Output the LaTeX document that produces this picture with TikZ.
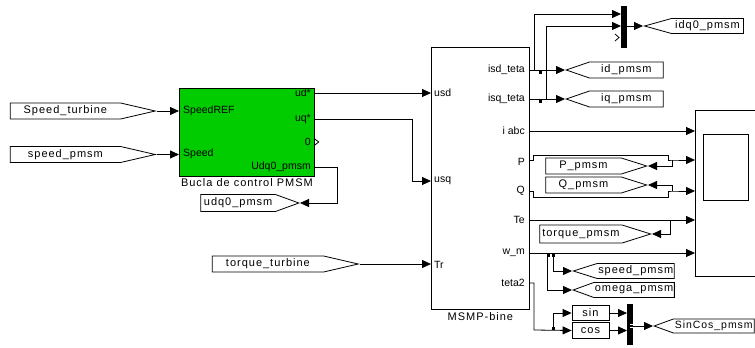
\documentclass[tikz,border=0pt]{standalone}
\usepackage{fontspec}
\setmainfont{Liberation Sans}
\newfontfamily\tagfont[LetterSpace=9]{Liberation Sans}
\usetikzlibrary{positioning,arrows.meta,shapes.symbols}

\begin{document}
\begin{tikzpicture}[x=1pt,y=-1pt,
  blk/.style={draw,line width=0.8pt,inner sep=0pt},
  bar/.style={fill=black,draw=none,inner sep=0pt},
  wire/.style={line width=0.8pt},
  sig/.style={-{Triangle[length=9pt,width=8pt]},line width=0.8pt},
  portlbl/.style={font=\fontsize{10.5}{12}\selectfont,inner sep=1pt},
  blkname/.style={font=\tagfont\fontsize{11}{13}\selectfont,inner sep=1pt},
  tag/.style={draw,line width=0.8pt,shape=signal,minimum height=16pt,inner sep=1pt,
    signal pointer angle=35,font=\tagfont\fontsize{11}{13}\selectfont},
  fromtag/.style={tag,signal to=east,signal pointer angle=26,anchor=east},
  gotoE/.style={tag,signal to=east,anchor=east},
  gotoW/.style={tag,signal to=west,anchor=west},
  jdot/.style={fill=black,inner sep=0pt,minimum size=3pt}]
\clip (0,0) rectangle (755,348);

% blocks
\node[blk,fill={rgb,255:red,0;green,204;blue,0},minimum width=135pt,minimum height=88pt,anchor=north west] (ctrl) at (179,88) {};
\node[blkname,below=1pt of ctrl] (ctrlname) {Bucla de control PMSM};
\node[blk,minimum width=98pt,minimum height=262pt,anchor=north west] (msmp) at (431,47) {};
\node[blkname,below=2pt of msmp] (msmpname) {MSMP-bine};
\node[blk,minimum width=70pt,minimum height=166pt,anchor=north west] (scope) at (695,110) {};
\node[blk,minimum width=45pt,minimum height=66pt,anchor=north west] (scopewin) at (703,134) {};
\node[bar,minimum width=6pt,minimum height=42pt,anchor=north west] (mux) at (621,6) {};
\node[bar,minimum width=6pt,minimum height=41pt,anchor=north west] (mux2) at (627,304) {};
\node[blk,minimum width=37pt,minimum height=15pt,font=\tagfont\fontsize{11}{13}\selectfont] (sin) at (590.5,313) {sin};
\node[blk,minimum width=37pt,minimum height=16pt,font=\tagfont\fontsize{11}{13}\selectfont] (cos) at (590.5,330.5) {cos};

% port labels
\node[portlbl,anchor=west] (lref) at (182,111) {SpeedREF};
\node[portlbl,anchor=west] (lspd) at (182,154) {Speed};
\node[portlbl,anchor=east] (lud) at (312,93) {ud*};
\node[portlbl,anchor=east] (luq) at (312,119) {uq*};
\node[portlbl,anchor=east] (lzero) at (312,142) {0};
\node[portlbl,anchor=east] (ludq) at (312,167) {Udq0\_pmsm};
\node[portlbl,anchor=west] (lusd) at (433,93) {usd};
\node[portlbl,anchor=west] (lusq) at (433,181) {usq};
\node[portlbl,anchor=west] (ltr) at (433,265) {Tr};
\node[portlbl,anchor=east] (lisd) at (526,70) {isd\_teta};
\node[portlbl,anchor=east] (lisq) at (526,99) {isq\_teta};
\node[portlbl,anchor=east] (liabc) at (526,131) {i abc};
\node[portlbl,anchor=east] (lp) at (526,162) {P};
\node[portlbl,anchor=east] (lq) at (526,191) {Q};
\node[portlbl,anchor=east] (lte) at (526,220) {Te};
\node[portlbl,anchor=east] (lwm) at (526,253) {w\_m};
\node[portlbl,anchor=east] (lteta) at (526,283) {teta2};

% from / goto tags
\node[fromtag,minimum width=145pt] (st) at (157,111) {Speed\_turbine};
\node[fromtag,minimum width=145pt] (sp) at (157,154.5) {speed\_pmsm};
\node[fromtag,minimum width=146pt] (tt) at (360,264) {torque\_turbine};
\node[gotoE,minimum width=98pt,minimum height=17pt,signal pointer angle=40] (udq) at (300,203) {udq0\_pmsm};
\node[gotoW,minimum width=99pt,minimum height=15pt,signal pointer angle=31] (idq) at (643,26) {idq0\_pmsm};
\node[gotoW,minimum width=97pt,signal pointer angle=38] (id) at (565,70) {id\_pmsm};
\node[gotoW,minimum width=97pt,signal pointer angle=38] (iq) at (565,99) {iq\_pmsm};
\node[gotoE,minimum width=101pt] (ppm) at (648,166) {P\_pmsm};
\node[gotoE,minimum width=101pt] (qpm) at (648,185) {Q\_pmsm};
\node[gotoE,minimum width=111pt,minimum height=18pt] (tpm) at (652,234) {torque\_pmsm};
\node[gotoW,minimum width=101pt,minimum height=15pt] (spm) at (572,271) {speed\_pmsm};
\node[gotoW,minimum width=101pt,minimum height=15pt,signal pointer angle=40] (opm) at (572,290) {omega\_pmsm};
\node[gotoW,minimum width=100pt,minimum height=14pt,signal pointer angle=40,font=\tagfont\fontsize{10.5}{12}\selectfont] (scpm) at (653,326) {SinCos\_pmsm};

% port points
\coordinate (ud) at (314,93);
\coordinate (uq) at (314,119);
\coordinate (udqout) at (314,167);
\coordinate (isd) at (529,70);
\coordinate (isq) at (529,99);
\coordinate (iabc) at (529,131);
\coordinate (pout) at (529,160);
\coordinate (qout) at (529,191);
\coordinate (teout) at (529,220);
\coordinate (wmout) at (529,253);
\coordinate (tetaout) at (529,283);
\coordinate (isdb) at (534,70);
\coordinate (isqb) at (546,99);
\coordinate (pb) at (672,160);
\coordinate (qb) at (672,191);
\coordinate (teb) at (670,220);
\coordinate (wmb1) at (547,253);
\coordinate (wmb2) at (553,253);
\coordinate (tetab) at (553,330);

% signals
\draw[sig] (st.east) -- (st.east -| ctrl.west);
\draw[sig] (sp.east) -- (sp.east -| ctrl.west);
\draw[sig] (ud) -- (ud -| msmp.west);
\draw[sig] (uq) -| (412,181) -- (lusq.west -| msmp.west);
\draw[sig] (udqout) -| (337,203) -- (udq.east);
\draw[sig] (tt.east) -- (tt.east -| msmp.west);
\draw[sig] (isd) -- (id.west);
\draw[sig] (isdb) |- (mux.west |- 0,14);
\draw[sig] (isq) -- (iq.west);
\draw[sig] (isqb) |- (mux.west |- 0,26);
\draw[sig] (mux.east |- idq.west) -- (idq.west);
\draw[sig] (iabc) -- (iabc -| scope.west);
\draw[sig] (pout) -- ++(4,0) |- (668,155) |- (pb) -- (pb -| scope.west);
\draw[sig] (pb) |- (ppm.east);
\draw[sig] (qout) -- ++(4,0) |- (668,197) |- (qb) -- (qb -| scope.west);
\draw[sig] (qb) |- (qpm.east);
\draw[sig] (teout) -- (teout -| scope.west);
\draw[sig] (teb) |- (tpm.east);
\draw[sig] (wmout) -- (wmout -| scope.west);
\draw[sig] (wmb2) |- (spm.west);
\draw[sig] (wmb1) |- (opm.west);
\draw[sig] (tetaout) -| (534,330) -- (cos.west);
\draw[sig] (tetab) |- (sin.west);
\draw[sig] (sin.east) -- (sin.east -| mux2.west);
\draw[sig] (cos.east) -- (cos.east -| mux2.west);
\draw[sig] (mux2.east |- scpm.west) -- (scpm.west);

% junction marks and open ports
\node[jdot] (j1) at (540,72) {};
\node[jdot] (j2) at (540,101) {};
\node[jdot] (j3) at (548,255) {};
\node[jdot] (j4) at (553,255) {};
\node[jdot] (j5) at (553,328) {};
\draw[wire] (ctrl.east |- 0,139) -- ++(4,3) -- ++(-4,3);
\draw[wire] (615,34) -- (619,37.5) -- (615,41);
\draw[white,line width=0.7pt] (630,324.5) -- (636,324.5) (630,327.5) -- (636,327.5);
\end{tikzpicture}
\end{document}
